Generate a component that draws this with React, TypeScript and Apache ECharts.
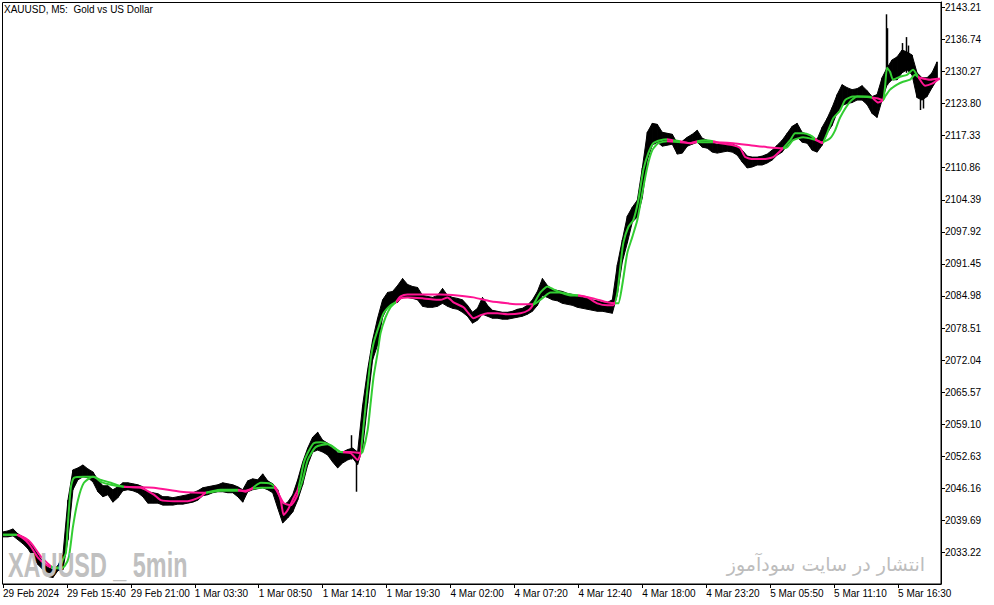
import React, { useEffect, useRef } from "react";
import * as echarts from "echarts";

// ---- data ----
const xTickIdx = [0, 64, 128, 192, 256, 320, 384, 448, 512, 576, 640, 704, 768, 832, 896];
const xTickLabels = [
  "29 Feb 2024", "29 Feb 15:40", "29 Feb 21:00", "1 Mar 03:30", "1 Mar 08:50",
  "1 Mar 14:10", "1 Mar 19:30", "4 Mar 02:00", "4 Mar 07:20", "4 Mar 12:40",
  "4 Mar 18:00", "4 Mar 23:20", "5 Mar 05:50", "5 Mar 11:10", "5 Mar 16:30",
];
const yTicks = [
  2033.22, 2039.69, 2046.16, 2052.63, 2059.1, 2065.57, 2072.04, 2078.51, 2084.98,
  2091.45, 2097.92, 2104.39, 2110.86, 2117.33, 2123.8, 2130.27, 2136.74, 2143.21,
];

const PRICE_STEP = 5; // bars between samples
const priceHigh = [
  2037.4, 2037.6, 2038.0, 2037.0, 2036.4, 2035.8, 2034.4, 2032.8, 2031.4, 2030.2,
  2029.8, 2030.6, 2032.8, 2043.8, 2049.9, 2050.3, 2050.9, 2050.1, 2049.5, 2047.9,
  2046.7, 2046.7, 2045.9, 2046.5, 2047.3, 2047.3, 2047.1, 2046.9, 2046.5, 2045.5,
  2045.3, 2045.1, 2044.5, 2044.5, 2044.3, 2044.5, 2044.7, 2044.9, 2045.3, 2045.7,
  2046.3, 2046.5, 2046.7, 2046.9, 2047.3, 2047.1, 2046.9, 2046.5, 2045.9, 2047.7,
  2048.1, 2047.9, 2049.1, 2047.7, 2047.1, 2045.9, 2042.8, 2043.4, 2044.9, 2047.9,
  2051.5, 2054.3, 2056.5, 2057.5, 2055.9, 2055.3, 2054.5, 2053.3, 2053.5, 2054.0,
  2054.3, 2053.5, 2062.9, 2070.1, 2076.1, 2080.5, 2084.2, 2085.7, 2085.9, 2087.1,
  2088.5, 2087.3, 2086.9, 2086.7, 2085.1, 2084.9, 2084.7, 2085.1, 2086.5, 2085.1,
  2084.7, 2084.5, 2084.2, 2083.1, 2081.7, 2082.5, 2084.7, 2083.1, 2082.1, 2081.9,
  2081.7, 2081.7, 2081.9, 2082.3, 2082.5, 2083.1, 2084.2, 2085.9, 2088.5, 2087.1,
  2086.3, 2086.1, 2085.9, 2085.5, 2085.3, 2084.9, 2084.7, 2084.5, 2084.2, 2084.0,
  2083.7, 2083.7, 2084.2, 2091.3, 2096.3, 2101.1, 2102.9, 2104.3, 2110.8, 2118.0,
  2119.8, 2119.6, 2118.0, 2117.8, 2117.6, 2115.8, 2116.2, 2117.0, 2117.6, 2118.4,
  2116.8, 2116.4, 2115.8, 2115.6, 2115.8, 2115.8, 2115.6, 2115.2, 2114.4, 2113.2,
  2113.0, 2113.0, 2113.2, 2113.6, 2114.4, 2115.4, 2116.4, 2117.8, 2119.2, 2119.8,
  2118.0, 2117.6, 2117.0, 2116.6, 2119.0, 2120.8, 2123.0, 2125.6, 2127.6, 2127.0,
  2126.6, 2126.8, 2127.4, 2126.4, 2125.2, 2125.6, 2129.0, 2131.0, 2132.6, 2133.2,
  2134.6, 2134.2, 2133.6, 2130.0, 2129.0, 2129.0, 2130.0, 2132.2,
];
const priceLow = [
  2036.4, 2036.4, 2036.6, 2035.8, 2035.0, 2034.0, 2032.4, 2030.8, 2029.8, 2028.4,
  2028.2, 2029.6, 2029.8, 2035.8, 2045.9, 2047.9, 2048.5, 2048.3, 2047.5, 2045.5,
  2044.5, 2044.9, 2043.4, 2044.3, 2045.7, 2045.9, 2045.7, 2045.3, 2044.5, 2043.2,
  2043.2, 2043.2, 2042.8, 2042.8, 2042.8, 2043.0, 2043.0, 2043.2, 2043.4, 2043.8,
  2044.7, 2044.9, 2045.3, 2045.5, 2045.5, 2045.3, 2045.3, 2044.5, 2043.4, 2045.5,
  2045.9, 2046.1, 2046.3, 2045.9, 2045.3, 2042.2, 2039.2, 2040.2, 2041.4, 2043.8,
  2046.9, 2050.9, 2053.5, 2053.9, 2053.5, 2052.9, 2051.5, 2050.3, 2051.3, 2051.9,
  2052.3, 2051.0, 2054.3, 2063.3, 2072.1, 2075.1, 2080.7, 2082.7, 2083.5, 2083.7,
  2084.9, 2084.7, 2084.5, 2084.2, 2082.9, 2082.7, 2082.7, 2082.9, 2083.5, 2082.9,
  2082.5, 2082.3, 2081.7, 2080.9, 2079.5, 2080.1, 2081.3, 2080.9, 2080.5, 2080.5,
  2080.3, 2080.3, 2080.5, 2080.7, 2080.9, 2081.3, 2081.9, 2083.1, 2085.1, 2084.7,
  2084.2, 2084.0, 2083.5, 2083.3, 2083.1, 2082.7, 2082.5, 2082.3, 2082.1, 2081.9,
  2081.9, 2081.7, 2081.5, 2085.3, 2091.9, 2095.7, 2099.9, 2100.9, 2104.8, 2112.4,
  2115.4, 2116.0, 2115.2, 2115.4, 2115.6, 2113.6, 2113.8, 2115.2, 2115.6, 2116.0,
  2115.0, 2114.8, 2114.0, 2113.8, 2114.0, 2114.2, 2114.0, 2113.4, 2112.0, 2110.8,
  2111.0, 2111.4, 2111.4, 2111.8, 2112.4, 2113.4, 2114.0, 2115.4, 2116.4, 2117.0,
  2116.0, 2115.8, 2114.4, 2114.0, 2115.4, 2117.8, 2119.4, 2122.0, 2123.4, 2123.8,
  2124.0, 2124.5, 2124.5, 2123.6, 2121.8, 2121.0, 2124.5, 2127.6, 2128.6, 2128.6,
  2130.0, 2130.6, 2129.6, 2125.0, 2124.5, 2125.2, 2127.0, 2128.6,
];
// single bars whose wicks stand out of the band: [bar index, low, high]
const spikeBars = [
  [348, 2052.0, 2056.9],
  [353, 2045.5, 2053.0],
  [884, 2128.0, 2141.8],
  [885, 2127.5, 2139.0],
  [900, 2130.5, 2136.0],
  [904, 2130.0, 2137.2],
  [906, 2131.0, 2135.5],
  [918, 2122.5, 2128.0],
  [921, 2122.8, 2127.5],
];

const fastMA = [
  [0, 2036.8], [13, 2036.8], [18, 2036.4], [23, 2035.6], [28, 2034.4], [35, 2032.2], [43, 2030.8],
  [50, 2030.2], [56, 2030.2], [60, 2031.8], [63, 2033.2], [65, 2039.2], [68, 2046.5], [71, 2048.3],
  [81, 2048.5], [91, 2048.5], [98, 2047.5], [108, 2046.9], [121, 2046.5], [138, 2046.3], [151, 2044.9],
  [158, 2043.8], [171, 2043.6], [185, 2043.6], [198, 2044.5], [203, 2045.3], [218, 2045.9], [235, 2045.9],
  [243, 2045.5], [250, 2046.3], [258, 2047.3], [268, 2047.1], [273, 2046.3], [278, 2043.8], [281, 2040.8],
  [285, 2041.8], [291, 2044.3], [295, 2045.9], [298, 2048.3], [301, 2051.3], [305, 2053.3], [311, 2055.3],
  [318, 2055.5], [328, 2054.9], [338, 2053.5], [348, 2053.3], [355, 2051.9], [358, 2053.3], [361, 2058.9],
  [365, 2066.7], [368, 2072.1], [371, 2075.5], [376, 2078.7], [381, 2081.5], [388, 2083.1], [393, 2083.7],
  [398, 2084.5], [405, 2084.7], [421, 2084.5], [438, 2084.2], [445, 2084.7], [451, 2083.7], [461, 2082.7],
  [466, 2081.5], [471, 2080.5], [478, 2081.1], [485, 2081.5], [495, 2081.5], [505, 2081.3], [518, 2081.5],
  [526, 2082.1], [531, 2083.3], [538, 2085.7], [545, 2086.9], [551, 2086.3], [558, 2085.7], [568, 2085.1],
  [576, 2085.1], [585, 2084.7], [595, 2083.5], [605, 2083.1], [611, 2083.1], [615, 2085.7], [618, 2090.9],
  [621, 2095.7], [626, 2098.9], [631, 2100.3], [636, 2104.3], [641, 2110.4], [646, 2113.8], [651, 2115.8],
  [658, 2116.4], [665, 2116.6], [671, 2116.4], [678, 2116.2], [688, 2115.8], [695, 2116.2], [703, 2116.4],
  [711, 2116.2], [718, 2115.8], [731, 2115.4], [738, 2114.8], [743, 2113.0], [751, 2112.6], [761, 2112.6],
  [771, 2113.0], [781, 2114.8], [788, 2116.4], [793, 2117.8], [801, 2117.8], [808, 2117.4], [815, 2116.4],
  [820, 2115.8], [825, 2117.8], [831, 2120.8], [838, 2122.4], [843, 2124.5], [851, 2125.2], [865, 2125.2],
  [870, 2125.0], [876, 2124.0], [881, 2124.5], [883, 2127.2], [885, 2131.0], [888, 2130.2], [891, 2128.6],
  [898, 2129.2], [905, 2129.6], [911, 2130.6], [916, 2129.2], [923, 2127.4], [930, 2127.8], [936, 2128.6],
  [938, 2128.8],
];
const slowMA = [
  [0, 2036.8], [13, 2036.8], [20, 2036.4], [26, 2035.6], [31, 2034.4], [38, 2032.4], [45, 2031.0],
  [50, 2030.2], [58, 2030.0], [62, 2030.6], [66, 2032.4], [70, 2038.4], [75, 2043.8], [81, 2047.3],
  [90, 2048.5], [98, 2047.9], [108, 2047.3], [121, 2046.5], [151, 2046.3], [178, 2045.5], [203, 2045.3],
  [218, 2045.7], [235, 2045.7], [243, 2045.7], [250, 2046.1], [258, 2046.3], [271, 2046.3], [281, 2043.2],
  [288, 2042.8], [295, 2044.9], [300, 2047.9], [305, 2051.9], [313, 2054.5], [325, 2055.1], [338, 2053.5],
  [348, 2053.5], [358, 2053.3], [360, 2053.5], [365, 2057.9], [368, 2063.3], [371, 2068.7], [375, 2073.5],
  [378, 2077.5], [383, 2080.7], [388, 2082.7], [393, 2083.7], [398, 2084.9], [405, 2085.3], [421, 2085.3],
  [438, 2085.3], [455, 2085.1], [471, 2084.7], [488, 2083.9], [505, 2083.5], [518, 2083.3], [531, 2083.3],
  [541, 2084.7], [548, 2085.7], [558, 2085.7], [568, 2085.3], [576, 2085.1], [591, 2084.5], [605, 2083.7],
  [613, 2083.5], [616, 2083.5], [620, 2087.3], [625, 2093.7], [630, 2096.9], [635, 2100.3], [640, 2105.8],
  [645, 2111.0], [650, 2114.4], [656, 2115.8], [665, 2116.2], [678, 2116.0], [688, 2115.8], [695, 2116.0],
  [711, 2116.0], [731, 2115.8], [748, 2115.4], [765, 2115.0], [781, 2114.8], [785, 2115.0], [791, 2116.4],
  [801, 2117.0], [811, 2116.6], [820, 2116.0], [828, 2116.8], [833, 2118.4], [838, 2121.0], [848, 2124.2],
  [855, 2125.2], [870, 2125.0], [876, 2124.8], [881, 2124.5], [883, 2125.2], [888, 2126.6], [895, 2127.6],
  [901, 2128.2], [908, 2128.6], [913, 2129.6], [916, 2129.2], [918, 2129.0], [928, 2128.6], [935, 2128.8],
  [938, 2128.8],
];
// bar-index ranges where the averages are drawn in pink (fast below slow)
const pinkRanges = [
  [14, 48], [121, 203], [235, 250], [271, 295], [340, 358], [393, 531], [576, 613],
  [665, 671], [678, 695], [711, 781], [813, 821], [870, 881], [916, 938],
];

const GREEN = "#32cd32";
const PINK = "#ff1493";
const FONT = '"Liberation Sans", Arial, sans-serif';

export default function App() {
  const ref = useRef<HTMLDivElement>(null);
  useEffect(() => {
    document.body.style.margin = "0";
    const chart = echarts.init(ref.current!, undefined, { renderer: "svg" });

    const pieces: any[] = [];
    let prev = -100;
    for (const [a, b] of pinkRanges) {
      pieces.push({ gte: prev, lt: a, color: GREEN });
      pieces.push({ gte: a, lt: b, color: PINK });
      prev = b;
    }
    pieces.push({ gte: prev, lte: 2000, color: GREEN });

    const n = priceHigh.length;
    const priceData = priceHigh.map((h, i) => [i * PRICE_STEP, h, priceLow[i]]);

    chart.setOption({
      animation: false,
      backgroundColor: "#ffffff",
      grid: { left: 2, right: 53, top: 2, bottom: 21 },
      xAxis: {
        type: "value",
        min: 0,
        max: 939,
        axisLine: { show: true, lineStyle: { color: "#000", width: 1 } },
        axisTick: { show: true, customValues: xTickIdx, length: 4, lineStyle: { color: "#000" } },
        axisLabel: {
          customValues: xTickIdx,
          formatter: (v: number) => xTickLabels[xTickIdx.indexOf(v)] ?? "",
          align: "left",
          margin: 4,
          color: "#000",
          fontSize: 10,
          fontFamily: FONT,
        },
        splitLine: { show: false },
      },
      yAxis: {
        type: "value",
        position: "right",
        min: 2026.89,
        max: 2144.28,
        axisLine: { show: true, onZero: false, lineStyle: { color: "#000", width: 1 } },
        axisTick: { show: true, customValues: yTicks, length: 4, lineStyle: { color: "#000" } },
        axisLabel: {
          customValues: yTicks,
          formatter: (v: number) => v.toFixed(2),
          margin: 4,
          color: "#000",
          fontSize: 10,
          fontFamily: FONT,
        },
        splitLine: { show: false },
      },
      visualMap: {
        type: "piecewise",
        show: false,
        dimension: 0,
        seriesIndex: [2, 3],
        pieces,
      },
      series: [
        {
          type: "custom",
          name: "price",
          data: priceData,
          encode: { x: 0, y: [1, 2] },
          clip: true,
          z: 1,
          renderItem: (params: any, api: any) => {
            const i = params.dataIndex;
            const j = Math.min(i + 1, n - 1);
            const a = api.coord([i * PRICE_STEP, priceHigh[i]]);
            const b = api.coord([j * PRICE_STEP, priceHigh[j]]);
            const c = api.coord([j * PRICE_STEP, priceLow[j]]);
            const d = api.coord([i * PRICE_STEP, priceLow[i]]);
            return {
              type: "polygon",
              shape: { points: [a, b, c, d] },
              style: { fill: "#000", stroke: "#000", lineWidth: 1 },
            };
          },
        },
        {
          type: "custom",
          name: "spikes",
          data: spikeBars,
          encode: { x: 0, y: [1, 2] },
          clip: true,
          z: 1,
          renderItem: (params: any, api: any) => {
            const lo = api.coord([api.value(0), api.value(1)]);
            const hi = api.coord([api.value(0), api.value(2)]);
            const x = Math.round(lo[0]) + 0.5;
            return {
              type: "line",
              shape: { x1: x, y1: lo[1], x2: x, y2: hi[1] },
              style: { stroke: "#000", lineWidth: 1.5 },
            };
          },
        },
        {
          type: "line",
          name: "slow",
          data: slowMA,
          showSymbol: false,
          smooth: 0.2,
          clip: true,
          z: 3,
          lineStyle: { width: 2 },
        },
        {
          type: "line",
          name: "fast",
          data: fastMA,
          showSymbol: false,
          smooth: 0.2,
          clip: true,
          z: 4,
          lineStyle: { width: 2 },
        },
      ],
      graphic: [
        {
          type: "rect",
          shape: { x: 2.5, y: 2.5, width: 938.5, height: 581.5 },
          style: { fill: "none", stroke: "#000", lineWidth: 1 },
          silent: true,
          z: 50,
        },
        {
          type: "text",
          x: 4,
          y: 9,
          style: {
            text: "XAUUSD, M5:  Gold vs US Dollar",
            font: `10px ${FONT}`,
            fill: "#000",
            textVerticalAlign: "middle",
          },
          z: 60,
        },
        {
          type: "text",
          x: 8,
          y: 565,
          scaleX: 0.65,
          style: {
            text: "XAUUSD _ 5min",
            font: `bold 36px ${FONT}`,
            fill: "#c0c0c0",
            textVerticalAlign: "middle",
          },
          z: 100,
        },
        {
          type: "text",
          x: 925,
          y: 564,
          style: {
            text: "انتشار در سایت سودآموز",
            font: `19px "DejaVu Sans", sans-serif`,
            fill: "#bdbdbd",
            textAlign: "right",
            textVerticalAlign: "middle",
          },
          z: 100,
        },
      ],
    });
    return () => chart.dispose();
  }, []);
  return <div ref={ref} style={{ width: 994, height: 605 }} />;
}
